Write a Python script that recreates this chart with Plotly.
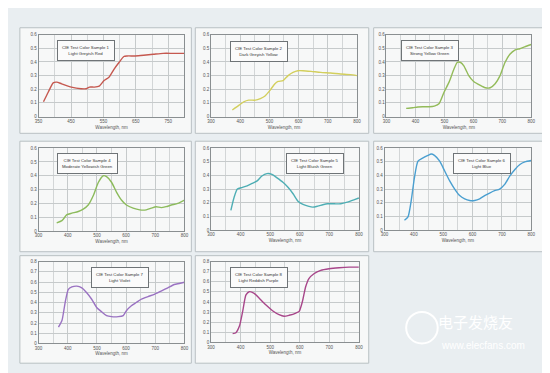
import plotly.graph_objects as go

W, H = 550, 373

# ---- data (wavelength nm, reflectance) ----
titles = [
    ("CIE Test Color Sample 1", "Light Greyish Red"),
    ("CIE Test Color Sample 2", "Dark Greyish Yellow"),
    ("CIE Test Color Sample 3", "Strong Yellow Green"),
    ("CIE Test Color Sample 4", "Moderate Yellowish Green"),
    ("CIE Test Color Sample 5", "Light Bluish Green"),
    ("CIE Test Color Sample 6", "Light Blue"),
    ("CIE Test Color Sample 7", "Light Violet"),
    ("CIE Test Color Sample 8", "Light Reddish Purple"),
]

s1_nm = [365, 380, 395, 406, 421, 451, 481, 497, 507, 522, 537, 552, 567, 583, 598, 613, 623, 648, 674, 704, 734, 765, 800]
s1_r = [0.108, 0.18, 0.247, 0.252, 0.24, 0.216, 0.204, 0.204, 0.216, 0.216, 0.223, 0.264, 0.288, 0.348, 0.396, 0.44, 0.444, 0.444, 0.449, 0.456, 0.463, 0.463, 0.463]

s2_nm = [373, 396, 412, 429, 452, 469, 485, 502, 519, 530, 547, 564, 581, 598, 615, 643, 676, 710, 744, 778, 800]
s2_r = [0.048, 0.084, 0.108, 0.12, 0.12, 0.132, 0.151, 0.192, 0.24, 0.257, 0.264, 0.30, 0.324, 0.336, 0.336, 0.331, 0.324, 0.319, 0.312, 0.307, 0.30]

s3_nm = [368, 391, 408, 425, 448, 465, 482, 499, 516, 533, 544, 556, 567, 584, 601, 624, 641, 658, 675, 692, 709, 726, 743, 760, 777, 800]
s3_r = [0.06, 0.065, 0.07, 0.072, 0.072, 0.077, 0.096, 0.18, 0.252, 0.348, 0.396, 0.396, 0.372, 0.30, 0.257, 0.228, 0.211, 0.211, 0.24, 0.30, 0.396, 0.456, 0.487, 0.497, 0.511, 0.528]

s4_nm = [362, 380, 397, 414, 436, 453, 470, 488, 505, 522, 533, 550, 567, 584, 601, 624, 647, 669, 686, 703, 720, 737, 755, 777, 800]
s4_r = [0.059, 0.075, 0.118, 0.129, 0.141, 0.158, 0.188, 0.259, 0.353, 0.40, 0.393, 0.353, 0.282, 0.224, 0.188, 0.165, 0.153, 0.153, 0.165, 0.176, 0.169, 0.176, 0.188, 0.20, 0.224]

s5_nm = [367, 378, 389, 406, 422, 439, 456, 472, 489, 506, 522, 544, 561, 578, 594, 611, 628, 644, 661, 678, 694, 717, 739, 761, 783, 800]
s5_r = [0.144, 0.24, 0.30, 0.312, 0.324, 0.341, 0.36, 0.396, 0.413, 0.408, 0.384, 0.348, 0.312, 0.264, 0.211, 0.187, 0.175, 0.168, 0.175, 0.185, 0.192, 0.192, 0.192, 0.204, 0.221, 0.235]

s6_nm = [368, 380, 391, 402, 414, 431, 448, 459, 470, 488, 505, 522, 539, 556, 573, 590, 607, 624, 641, 658, 675, 692, 710, 727, 744, 761, 778, 800]
s6_r = [0.072, 0.096, 0.216, 0.384, 0.504, 0.528, 0.547, 0.557, 0.547, 0.504, 0.432, 0.36, 0.30, 0.252, 0.228, 0.216, 0.216, 0.228, 0.252, 0.271, 0.288, 0.30, 0.336, 0.396, 0.444, 0.48, 0.499, 0.509]

s7_nm = [368, 380, 391, 402, 414, 431, 448, 465, 482, 499, 516, 533, 550, 573, 590, 601, 618, 635, 652, 675, 697, 720, 743, 765, 782, 800]
s7_r = [0.16, 0.224, 0.40, 0.528, 0.552, 0.56, 0.544, 0.496, 0.432, 0.352, 0.31, 0.272, 0.262, 0.262, 0.272, 0.32, 0.368, 0.40, 0.432, 0.458, 0.48, 0.512, 0.544, 0.576, 0.586, 0.598]

s8_nm = [373, 384, 396, 407, 418, 429, 446, 463, 485, 508, 530, 547, 564, 587, 598, 609, 620, 631, 648, 671, 699, 733, 767, 800]
s8_r = [0.087, 0.097, 0.162, 0.308, 0.47, 0.502, 0.486, 0.437, 0.372, 0.314, 0.275, 0.259, 0.269, 0.291, 0.308, 0.405, 0.551, 0.632, 0.68, 0.713, 0.729, 0.739, 0.745, 0.745]

series = [(s1_nm, s1_r), (s2_nm, s2_r), (s3_nm, s3_r), (s4_nm, s4_r),
          (s5_nm, s5_r), (s6_nm, s6_r), (s7_nm, s7_r), (s8_nm, s8_r)]

x_ranges = [(350, 800), (300, 800), (300, 800), (300, 800),
            (300, 800), (300, 800), (300, 800), (300, 800)]
y_max = [0.6, 0.6, 0.6, 0.6, 0.6, 0.6, 0.8, 0.8]

# ---- styles / layout ----
colors = ["#c5584f", "#d3cf5c", "#93bb5a", "#8cbb5c",
          "#4eaeb4", "#4a9fd0", "#9a72c2", "#a8468a"]

plot_px = [(27, 175, 25, 108), (202, 350, 25, 108), (380, 527, 25, 108),
           (27, 175, 140, 224), (202, 352, 140, 223), (378, 527, 140, 223),
           (27, 175, 255, 338), (202, 352, 255, 337)]
box_px = [(8, 182, 18, 125), (186, 362, 18, 125), (367, 545, 18, 125),
          (8, 182, 133, 245), (186, 362, 133, 245), (367, 545, 133, 245),
          (8, 182, 249, 358), (186, 362, 249, 358)]
tbox_px = [(75, 41), (251, 42), (424, 41), (77, 156), (307, 156), (477, 156),
           (110, 271), (251, 271)]

FONT = "Liberation Sans, Arial, sans-serif"
fig = go.Figure()
shapes = []
annotations = []

for i in range(8):
    x0, x1, y0, y1 = plot_px[i]
    bx0, bx1, by0, by1 = box_px[i]
    shapes.append(dict(type="rect", xref="paper", yref="paper", layer="below",
                       x0=bx0 / W, x1=bx1 / W, y0=1 - by1 / H, y1=1 - by0 / H,
                       fillcolor="#f7f8f8", line=dict(color="#b9c0c3", width=1)))
    xa = "xaxis" if i == 0 else f"xaxis{i+1}"
    ya = "yaxis" if i == 0 else f"yaxis{i+1}"
    xr = "x" if i == 0 else f"x{i+1}"
    yr = "y" if i == 0 else f"y{i+1}"
    nm, r = series[i]
    fig.add_trace(go.Scatter(x=nm, y=r, mode="lines",
                             line=dict(color=colors[i], width=1.4, shape="spline", smoothing=0.6),
                             xaxis=xr, yaxis=yr, showlegend=False, hoverinfo="skip"))
    fig.layout[xa] = dict(domain=[x0 / W, x1 / W], anchor=yr, range=list(x_ranges[i]),
                          tick0=x_ranges[i][0], dtick=100, showgrid=True, gridcolor="#c6cacb", gridwidth=0.8,
                          minor=dict(dtick=50, tick0=x_ranges[i][0], showgrid=True, gridcolor="#d3d6d7", gridwidth=0.6),
                          showline=True, linecolor="#8a8f91", linewidth=0.8, mirror=True,
                          ticks="", zeroline=False,
                          tickfont=dict(size=4.5, color="#555", family=FONT),
                          title=dict(text="Wavelength, nm", font=dict(size=4.5, color="#555", family=FONT), standoff=2))
    fig.layout[ya] = dict(domain=[1 - y1 / H, 1 - y0 / H], anchor=xr, range=[0, y_max[i]],
                          dtick=0.1, showgrid=True, gridcolor="#c6cacb", gridwidth=0.8,
                          showline=True, linecolor="#8a8f91", linewidth=0.8, mirror=True,
                          ticks="", zeroline=False,
                          tickfont=dict(size=4.5, color="#555", family=FONT))
    cx, cy = tbox_px[i]
    annotations.append(dict(xref="paper", yref="paper", x=cx / W, y=1 - cy / H,
                            xanchor="center", yanchor="middle",
                            text=titles[i][0] + "<br>" + titles[i][1], showarrow=False,
                            font=dict(size=4.3, color="#333", family=FONT),
                            bgcolor="#fbfbfb", bordercolor="#6f7477", borderwidth=1, borderpad=4,
                            align="center"))

# watermark
annotations.append(dict(xref="paper", yref="paper", x=470 / W, y=1 - 316 / H, text="电子发烧友",
                        xanchor="center", yanchor="middle",
                        showarrow=False, font=dict(size=15, color="#ffffff", family="Noto Sans CJK SC")))
annotations.append(dict(xref="paper", yref="paper", x=478 / W, y=1 - 340 / H, text="www.elecfans.com",
                        xanchor="center", yanchor="middle",
                        showarrow=False, font=dict(size=10, color="#ffffff", family=FONT)))
shapes.append(dict(type="circle", xref="paper", yref="paper", layer="above",
                   x0=400 / W, x1=432 / W, y0=1 - 338 / H, y1=1 - 306 / H,
                   line=dict(color="#ffffff", width=2)))

fig.update_layout(width=W, height=H, margin=dict(l=0, r=0, t=0, b=0),
                  paper_bgcolor="#e9eef1", plot_bgcolor="#fafbfb",
                  shapes=shapes, annotations=annotations,
                  font=dict(family=FONT))
fig.write_html("out.html")
